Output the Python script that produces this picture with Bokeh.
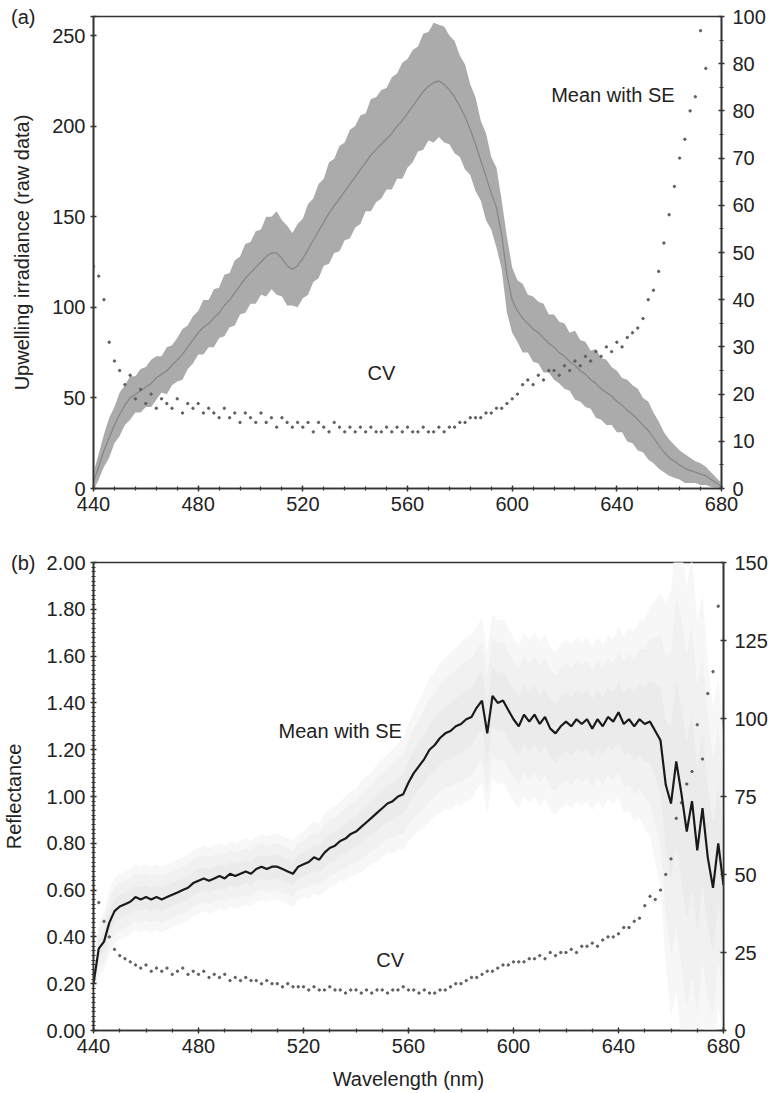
import numpy as np
from bokeh.plotting import figure
from bokeh.models import Range1d, LinearAxis, FixedTicker, Label
from bokeh.layouts import column
from bokeh.embed import file_html
from bokeh.resources import INLINE

NaN = float("nan")

# Wavelength (nm), 2 nm steps
wavelength = list(range(440, 681, 2))

# (a) Upwelling irradiance (raw data): mean, SE half-width, CV (%)
irr_mean = [4, 12, 21, 28, 35, 41, 46, 50, 52, 54,
            56, 58, 61, 63, 65, 68, 71, 74, 78, 82,
            86, 89, 91, 94, 97, 101, 104, 108, 112, 116,
            119, 122, 125, 128, 130, 130, 127, 123, 121, 123,
            127, 132, 137, 142, 147, 152, 156, 160, 164, 168,
            172, 176, 180, 184, 187, 190, 193, 196, 200, 203,
            207, 211, 215, 219, 222, 224, 225, 223, 220, 216,
            211, 205, 198, 190, 181, 172, 163, 155, 140, 118,
            104, 98, 94, 91, 88, 86, 83, 80, 78, 75,
            73, 70, 68, 65, 63, 60, 58, 55, 53, 51,
            48, 46, 43, 41, 38, 35, 32, 28, 24, 20,
            17, 15, 13, 11, 10, 9, 8, 7, 5, 3, 1]
irr_se = [5, 7, 9, 11, 10, 12, 11, 12, 10, 12,
          11, 13, 12, 10, 13, 11, 12, 14, 12, 13,
          12, 15, 13, 16, 14, 17, 15, 18, 16, 19,
          17, 20, 18, 22, 20, 23, 21, 22, 20, 23,
          22, 25, 23, 26, 24, 28, 26, 29, 27, 30,
          28, 30, 27, 31, 29, 30, 28, 31, 29, 32,
          30, 31, 29, 32, 30, 33, 31, 32, 30, 31,
          28, 29, 25, 26, 22, 24, 20, 22, 19, 21,
          18, 17, 19, 16, 18, 17, 19, 16, 18, 17,
          18, 16, 19, 17, 18, 16, 19, 17, 18, 16,
          17, 15, 17, 16, 17, 15, 16, 14, 13, 11,
          10, 9, 8, 8, 7, 6, 6, 5, 4, 3, 2]
irr_cv = [47, 45, 40, 31, 27, 25, 22, 24, 19, 21,
          18, 20, 17, 19, 18, 17, 19, 16, 18, 17,
          18, 16, 17, 16, 15, 17, 15, 16, 14, 16,
          15, 14, 16, 14, 15, 13, 15, 14, 13, 14,
          13, 14, 12, 14, 13, 12, 14, 13, 12, 13,
          12, 13, 12, 13, 12, 12, 13, 12, 13, 12,
          13, 12, 12, 13, 12, 12, 13, 12, 13, 13,
          14, 14, 15, 15, 15, 16, 16, 17, 17, 18,
          19, 20, 22, 23, 22, 24, 23, 25, 25, 24,
          26, 25, 27, 26, 28, 27, 29, 28, 30, 29,
          31, 30, 32, 33, 34, 36, 40, 42, 46, 52,
          58, 64, 70, 74, 80, 83, 97, 89, NaN, NaN, NaN]

# (b) Reflectance: mean, SE half-width, CV (%)
refl_mean = [0.20, 0.35, 0.38, 0.46, 0.51, 0.53, 0.54, 0.55, 0.57, 0.56,
             0.57, 0.56, 0.57, 0.56, 0.57, 0.58, 0.59, 0.60, 0.61, 0.63,
             0.64, 0.65, 0.64, 0.65, 0.66, 0.65, 0.67, 0.66, 0.67, 0.68,
             0.67, 0.69, 0.70, 0.69, 0.70, 0.70, 0.69, 0.68, 0.67, 0.70,
             0.71, 0.72, 0.74, 0.73, 0.76, 0.78, 0.79, 0.81, 0.82, 0.84,
             0.85, 0.87, 0.89, 0.91, 0.93, 0.95, 0.97, 0.98, 1.00, 1.01,
             1.06, 1.10, 1.13, 1.16, 1.20, 1.22, 1.25, 1.27, 1.28, 1.30,
             1.31, 1.33, 1.34, 1.38, 1.41, 1.27, 1.43, 1.40, 1.41, 1.37,
             1.33, 1.30, 1.35, 1.32, 1.35, 1.31, 1.34, 1.29, 1.27, 1.30,
             1.32, 1.30, 1.33, 1.31, 1.33, 1.29, 1.33, 1.30, 1.34, 1.32,
             1.36, 1.31, 1.33, 1.30, 1.33, 1.31, 1.32, 1.28, 1.24, 1.05,
             0.97, 1.15, 1.01, 0.85, 0.98, 0.77, 0.95, 0.74, 0.61, 0.80, 0.62]
refl_se = [0.05, 0.08, 0.09, 0.10, 0.10, 0.10, 0.10, 0.10, 0.10, 0.10,
           0.10, 0.10, 0.10, 0.10, 0.10, 0.10, 0.10, 0.10, 0.10, 0.10,
           0.10, 0.10, 0.10, 0.10, 0.10, 0.10, 0.10, 0.10, 0.10, 0.10,
           0.10, 0.10, 0.10, 0.10, 0.10, 0.10, 0.10, 0.10, 0.10, 0.10,
           0.10, 0.11, 0.11, 0.11, 0.12, 0.12, 0.12, 0.12, 0.13, 0.13,
           0.13, 0.14, 0.14, 0.14, 0.15, 0.15, 0.15, 0.16, 0.16, 0.17,
           0.18, 0.19, 0.20, 0.21, 0.22, 0.22, 0.23, 0.23, 0.24, 0.24,
           0.25, 0.25, 0.25, 0.25, 0.25, 0.25, 0.25, 0.25, 0.25, 0.25,
           0.25, 0.25, 0.25, 0.25, 0.25, 0.25, 0.25, 0.25, 0.25, 0.25,
           0.25, 0.25, 0.25, 0.25, 0.25, 0.25, 0.25, 0.25, 0.25, 0.25,
           0.26, 0.27, 0.28, 0.29, 0.30, 0.32, 0.35, 0.40, 0.45, 0.55,
           0.65, 0.70, 0.75, 0.75, 0.75, 0.70, 0.65, 0.60, 0.55, 0.50, 0.45]
refl_cv = [45, 41, 35, 30, 26, 24, 23, 22, 21, 20,
           21, 19, 20, 19, 20, 18, 19, 20, 18, 19,
           18, 19, 17, 18, 17, 18, 16, 17, 16, 17,
           16, 16, 15, 16, 15, 15, 14, 15, 14, 14,
           14, 13, 14, 13, 13, 14, 13, 13, 12, 13,
           13, 12, 13, 12, 13, 13, 12, 13, 13, 14,
           13, 13, 12, 13, 12, 12, 13, 13, 14, 15,
           15, 16, 17, 17, 18, 19, 19, 20, 21, 21,
           22, 22, 22, 23, 23, 24, 23, 25, 24, 25,
           25, 26, 25, 27, 27, 28, 27, 29, 30, 30,
           31, 33, 33, 35, 36, 40, 43, 42, 45, 50,
           55, 68, 73, 79, 83, 98, 87, 108, 115, 136, NaN]

FONT = "Liberation Sans"
TXT = "#222222"
AX = "#333333"
NB = "\u00a0"


def style_axis(ax, ticks, minor=None, label_size="20px"):
    ax.ticker = FixedTicker(ticks=ticks, minor_ticks=minor or [])
    ax.axis_line_color = AX
    ax.axis_line_width = 1.6
    ax.major_tick_line_color = AX
    ax.major_tick_line_width = 1.4
    ax.major_tick_in = 3
    ax.major_tick_out = 3
    ax.minor_tick_line_color = AX
    ax.minor_tick_line_width = 1.2
    ax.minor_tick_in = 2
    ax.minor_tick_out = 2
    ax.major_label_text_font = FONT
    ax.major_label_text_font_size = label_size
    ax.major_label_text_color = TXT
    ax.axis_label_text_font = FONT
    ax.axis_label_text_font_size = "20px"
    ax.axis_label_text_font_style = "normal"
    ax.axis_label_text_color = TXT


def base_fig(fw, fh, top, bottom, yr):
    p = figure(frame_width=fw, frame_height=fh, x_range=Range1d(440, 680),
               y_range=yr, output_backend="svg", toolbar_location=None,
               min_border_left=92, min_border_right=50,
               min_border_top=top, min_border_bottom=bottom)
    p.xgrid.visible = False
    p.ygrid.visible = False
    p.outline_line_color = AX
    p.outline_line_width = 1.6
    p.background_fill_color = "white"
    p.border_fill_color = "white"
    return p


wl = np.array(wavelength, dtype=float)

# ---------------- (a) ----------------
Y1_TOP = 260.5
p1 = base_fig(628, 472, 16, 36, Range1d(0, Y1_TOP))
p1.extra_y_ranges = {"cv": Range1d(0, 100)}
im = np.array(irr_mean, dtype=float)
ise = np.array(irr_se, dtype=float)
p1.varea(x=wl, y1=im - ise, y2=im + ise, fill_color="#ababab", fill_alpha=1.0)
p1.line(wl, im, line_color="#858585", line_width=1.2)
p1.scatter(wl, np.array(irr_cv, dtype=float), y_range_name="cv", size=2.4,
           marker="circle", fill_color="#606060", line_color="#606060")

style_axis(p1.xaxis[0], list(range(440, 681, 40)), list(range(440, 681, 8)))
p1.xaxis[0].major_label_standoff = 5
style_axis(p1.yaxis[0], [0, 50, 100, 150, 200, 250, Y1_TOP])
p1.yaxis[0].major_label_overrides = {Y1_TOP: "(a)" + NB * 9}
p1.yaxis[0].minor_tick_line_color = None
p1.yaxis[0].axis_label = "Upwelling irradiance (raw data)"
p1.yaxis[0].axis_label_standoff = -25
p1.yaxis[0].major_label_standoff = 5

ax1r = LinearAxis(y_range_name="cv")
style_axis(ax1r, list(range(0, 101, 10)), list(range(0, 101, 5)))
ax1r.major_label_overrides = {90: "80"}
ax1r.major_label_standoff = 8
p1.add_layout(ax1r, "right")

for txt, x, y in [("Mean with SE", 638.5, 217.0), ("CV", 550.0, 64.0)]:
    p1.add_layout(Label(x=x, y=y, text=txt, text_font=FONT, text_font_size="20px",
                        text_color=TXT, text_align="center", text_baseline="middle"))

# ---------------- (b) ----------------
p2 = base_fig(630, 468, 38, 58, Range1d(0, 2.0))
p2.extra_y_ranges = {"cv": Range1d(0, 150)}
rm = np.array(refl_mean, dtype=float)
rse = np.array(refl_se, dtype=float)
p2.varea(x=wl, y1=rm - 1.4 * rse, y2=rm + 1.4 * rse, fill_color="#f7f7f7", fill_alpha=1.0)
p2.varea(x=wl, y1=rm - rse, y2=rm + rse, fill_color="#f1f1f1", fill_alpha=1.0)
p2.varea(x=wl, y1=rm - 0.5 * rse, y2=rm + 0.5 * rse, fill_color="#ebebeb", fill_alpha=1.0)
p2.scatter(wl, np.array(refl_cv, dtype=float), y_range_name="cv", size=2.4,
           marker="circle", fill_color="#606060", line_color="#606060")
p2.line(wl, rm, line_color="#1a1a1a", line_width=2.2)

style_axis(p2.xaxis[0], list(range(440, 681, 40)), list(range(440, 681, 10)))
p2.xaxis[0].major_label_standoff = 5
p2.xaxis[0].axis_label = "Wavelength (nm)"
p2.xaxis[0].axis_label_standoff = 12
ly = [round(0.2 * i, 2) for i in range(11)]
style_axis(p2.yaxis[0], ly, [round(0.02 * i, 2) for i in range(101)])
ovr = {v: "%.2f" % v for v in ly}
ovr[2.0] = "(b)" + NB * 2 + "2.00"
p2.yaxis[0].major_label_overrides = ovr
p2.yaxis[0].axis_label = "Reflectance"
p2.yaxis[0].axis_label_standoff = -17
p2.yaxis[0].major_label_standoff = 5

ax2r = LinearAxis(y_range_name="cv")
style_axis(ax2r, [0, 25, 50, 75, 100, 125, 150])
ax2r.minor_tick_line_color = None
ax2r.major_label_standoff = 8
p2.add_layout(ax2r, "right")

for txt, x, y in [("Mean with SE", 534.0, 1.282), ("CV", 553.0, 0.30)]:
    p2.add_layout(Label(x=x, y=y, text=txt, text_font=FONT, text_font_size="20px",
                        text_color=TXT, text_align="center", text_baseline="middle"))

layout = column(p1, p2, spacing=0)
open("out.html", "w").write(file_html(layout, INLINE))
